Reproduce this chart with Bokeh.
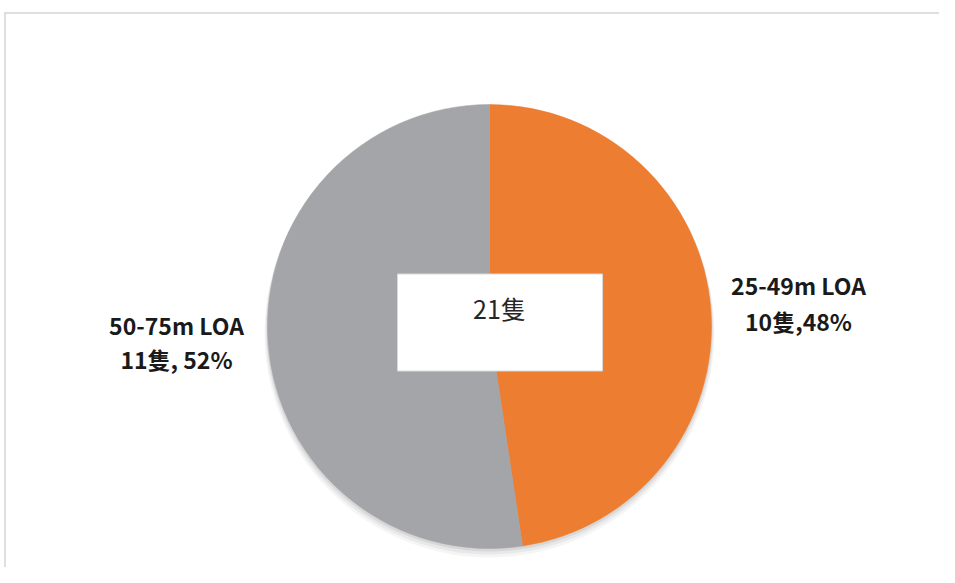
import math
from bokeh.plotting import figure
from bokeh.models import Range1d
from bokeh.core.properties import value
from bokeh.embed import file_html
from bokeh.resources import INLINE

# ---- data ----
categories = ["25-49m LOA", "50-75m LOA"]
counts = [10, 11]
count_labels = ["10隻,48%", "11隻, 52%"]
colors = ["#ED7D31", "#A4A5A9"]
unit = "隻"

W, H = 939, 567
p = figure(width=W, height=H, x_range=Range1d(0, W), y_range=Range1d(0, H),
           output_backend="svg", toolbar_location=None,
           x_axis_type=None, y_axis_type=None, min_border=0)
p.outline_line_color = None
p.grid.visible = False
p.background_fill_color = "white"
p.border_fill_color = "white"


def Y(sy):
    return H - sy


FONT = value("Noto Sans CJK TC")

# frame lines
p.segment(x0=[4], y0=[Y(12.5)], x1=[W], y1=[Y(12.5)], line_color="#D4D4D4", line_width=1.5)
p.segment(x0=[4.5], y0=[Y(12)], x1=[4.5], y1=[0], line_color="#D4D4D4", line_width=1.5)

cx, cy, r = 489, Y(326), 222
total = sum(counts)

# soft shadow
for dy, extra, alpha in [(6, 3, 0.04), (4, 2, 0.05), (2, 1, 0.07)]:
    p.circle(x=[cx], y=[cy - dy], radius=r + extra, radius_units="screen",
             fill_color="#000000", fill_alpha=alpha, line_color=None)

starts, ends = [], []
a = math.pi / 2
for c in counts:
    sweep = 2 * math.pi * c / total
    starts.append(a)
    ends.append(a - sweep)
    a -= sweep

p.wedge(x=[cx] * len(counts), y=[cy] * len(counts), radius=r, radius_units="screen",
        start_angle=starts, end_angle=ends, direction="clock",
        fill_color=colors, line_color=colors, line_width=0.5)

# center box
p.rect(x=[499.5], y=[Y(322)], width=205, height=97, fill_color="white",
       line_color="#D9D9D9", line_width=1)
p.text(x=[499], y=[Y(307)], text=[f"{total}{unit}"], text_font=FONT,
       text_font_size="25px", text_align="center", text_baseline="middle",
       text_color="#262626")

# labels
label_x = [798, 176]
label_y1 = [Y(284), Y(324)]
label_y2 = [Y(320), Y(358)]
p.text(x=label_x, y=label_y1, text=categories, text_font=FONT, text_font_style="bold",
       text_font_size="23px", text_align="center", text_baseline="middle", text_color="#1A1A1A")
p.text(x=label_x, y=label_y2, text=count_labels, text_font=FONT, text_font_style="bold",
       text_font_size="23px", text_align="center", text_baseline="middle", text_color="#1A1A1A")

open("out.html", "w").write(file_html(p, INLINE))
